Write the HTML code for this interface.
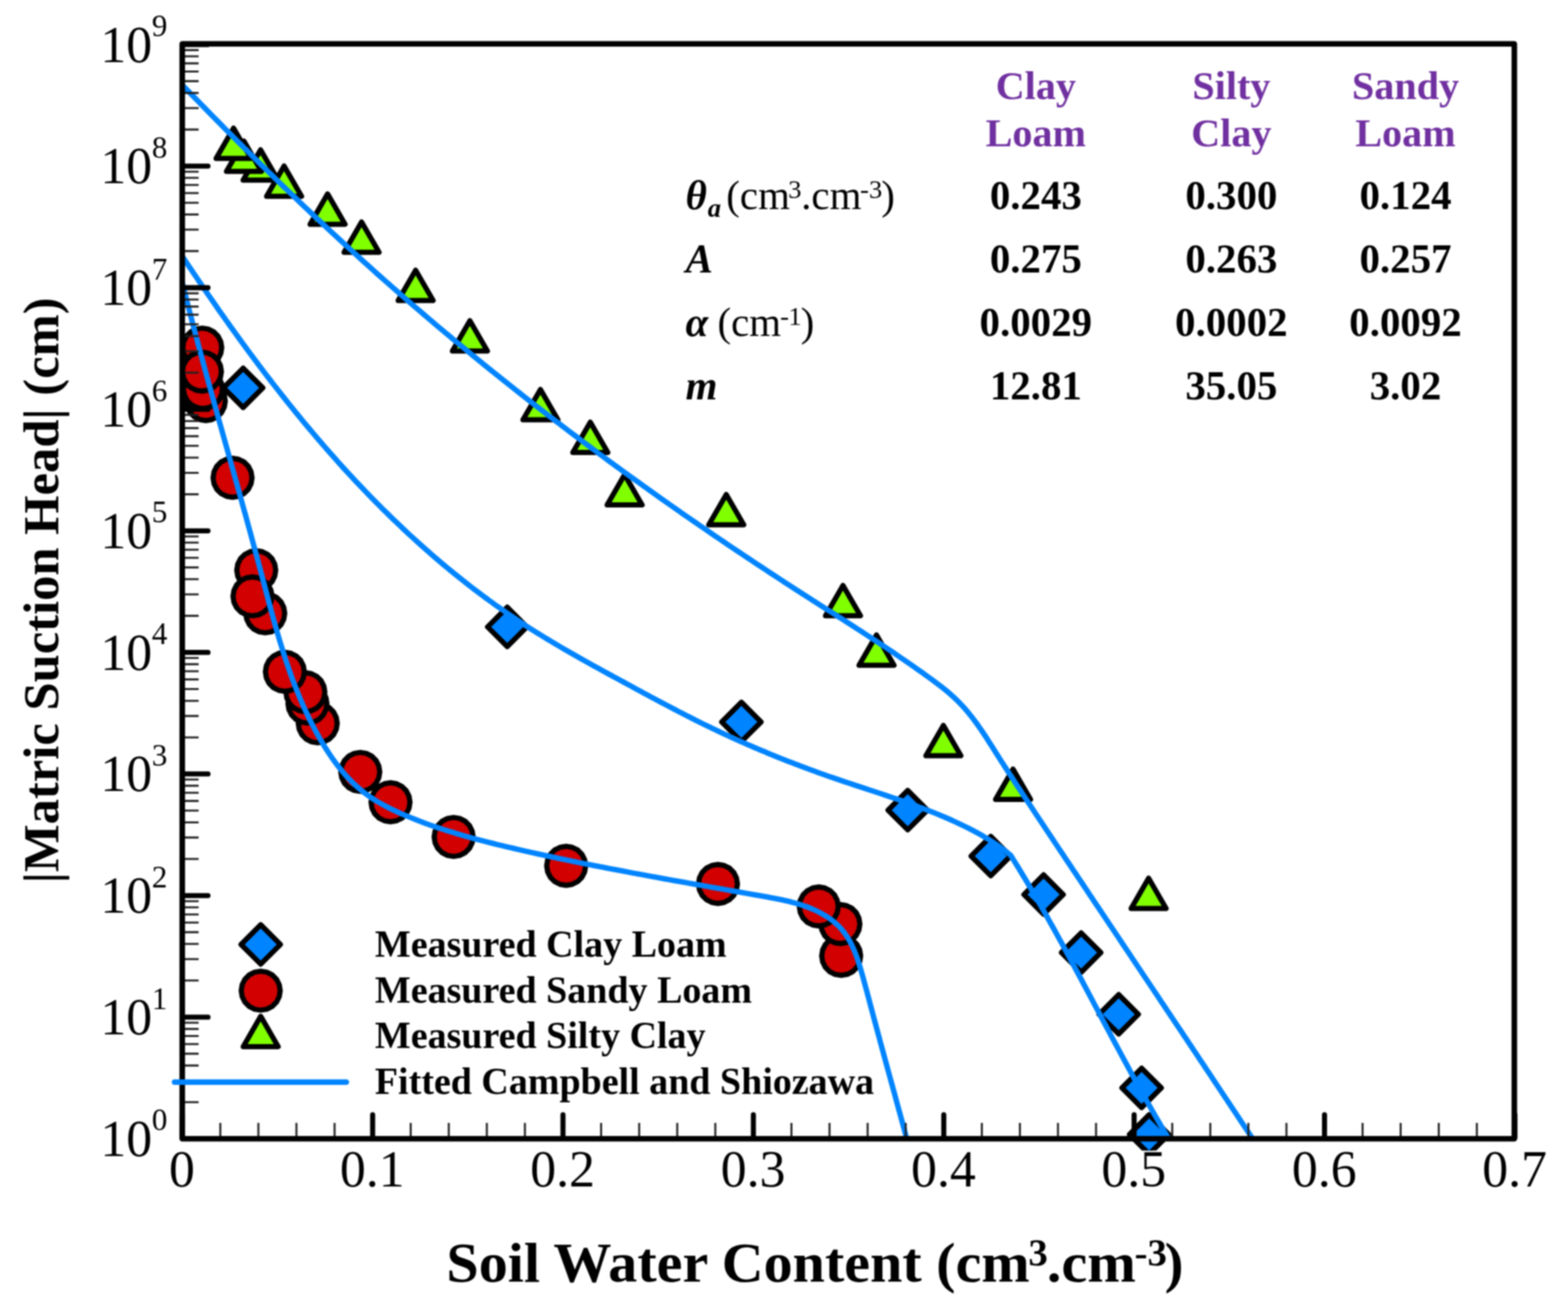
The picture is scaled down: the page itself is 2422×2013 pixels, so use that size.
<!DOCTYPE html>
<html lang="en"><head><meta charset="utf-8"><title>Soil water retention curves</title>
<style>
html,body{margin:0;padding:0;background:#fff;}
body{width:2422px;height:2013px;}
svg{display:block;filter:blur(0.8px);}
text{font-family:"Liberation Serif",serif;fill:#000;}
.b{font-weight:bold;}
.bi{font-weight:bold;font-style:italic;}
.tk{font-size:80px;}
.sp{font-size:48px;}
.tb{font-size:63.2px;font-weight:bold;}
.hd{font-size:62px;font-weight:bold;fill:#7030a0;}
.lg{font-size:58.7px;font-weight:bold;}
.mk{stroke:#000;stroke-width:8;stroke-linejoin:round;}
.cv{fill:none;stroke:#0084ff;stroke-width:8.3;stroke-linejoin:round;stroke-linecap:butt;}
</style></head><body>
<svg width="2422" height="2013" viewBox="0 0 2422 2013">
<rect width="2422" height="2013" fill="#fff"/>
<defs>
<path id="dia" d="M0 -30.4 L30.4 0 L0 30.4 L-30.4 0 Z" class="mk" fill="#0084ff"/>
<path id="cir" d="M0 -30.1 L9.3 -28.6 L17.7 -24.4 L24.4 -17.7 L28.6 -9.3 L30.1 -0 L28.6 9.3 L24.4 17.7 L17.7 24.4 L9.3 28.6 L0 30.1 L-9.3 28.6 L-17.7 24.4 L-24.4 17.7 L-28.6 9.3 L-30.1 0 L-28.6 -9.3 L-24.4 -17.7 L-17.7 -24.4 L-9.3 -28.6 Z" class="mk" fill="#d20000"/>
<path id="tri" d="M0 0 L27 46.8 L-27 46.8 Z" class="mk" fill="#80ff00"/>
<clipPath id="clipdata"><rect x="0" y="0" width="2422" height="1777.5"/></clipPath>
<clipPath id="clipplot"><rect x="281.5" y="67.8" width="2057.6" height="1691.4"/></clipPath>
</defs>
<g id="markers" clip-path="url(#clipdata)">
<g id="clay-loam-points">
<use href="#dia" x="375.6" y="599.2"/>
<use href="#dia" x="783.5" y="968.5"/>
<use href="#dia" x="1145.2" y="1115.3"/>
<use href="#dia" x="1402.1" y="1251.6"/>
<use href="#dia" x="1530.4" y="1322.6"/>
<use href="#dia" x="1612" y="1382"/>
<use href="#dia" x="1670" y="1471.7"/>
<use href="#dia" x="1728" y="1567"/>
<use href="#dia" x="1763.4" y="1680.7"/>
<use href="#dia" x="1775" y="1752.6"/>
</g>
<g id="sandy-loam-points">
<use href="#cir" x="1299.3" y="1476.7"/>
<use href="#cir" x="1298.1" y="1427.6"/>
<use href="#cir" x="1264.7" y="1400.4"/>
<use href="#cir" x="1109" y="1365.6"/>
<use href="#cir" x="874.5" y="1337.6"/>
<use href="#cir" x="700.7" y="1293"/>
<use href="#cir" x="603.2" y="1239.4"/>
<use href="#cir" x="556.5" y="1192.5"/>
<use href="#cir" x="490.8" y="1117.5"/>
<use href="#cir" x="474.9" y="1087"/>
<use href="#cir" x="471.7" y="1069.4"/>
<use href="#cir" x="440" y="1037.9"/>
<use href="#cir" x="409.7" y="947.5"/>
<use href="#cir" x="395.8" y="880.9"/>
<use href="#cir" x="390" y="921.3"/>
<use href="#cir" x="359.2" y="738.1"/>
<use href="#cir" x="317.9" y="619.6"/>
<use href="#cir" x="313.5" y="601.1"/>
<use href="#cir" x="312.4" y="537"/>
<use href="#cir" x="311.9" y="574.1"/>
</g>
<g id="silty-clay-points">
<use href="#tri" x="402.5" y="231.5"/>
<use href="#tri" x="376.8" y="218"/>
<use href="#tri" x="360.8" y="198"/>
<use href="#tri" x="438.8" y="256.5"/>
<use href="#tri" x="506" y="299.6"/>
<use href="#tri" x="558.5" y="342.9"/>
<use href="#tri" x="642" y="417.5"/>
<use href="#tri" x="725.8" y="495.5"/>
<use href="#tri" x="834.8" y="601.7"/>
<use href="#tri" x="911.8" y="652.2"/>
<use href="#tri" x="964.8" y="733.3"/>
<use href="#tri" x="1121.8" y="763.9"/>
<use href="#tri" x="1302.1" y="904.4"/>
<use href="#tri" x="1353.9" y="981"/>
<use href="#tri" x="1457.2" y="1120.8"/>
<use href="#tri" x="1564.8" y="1188.2"/>
<use href="#tri" x="1774.2" y="1356.7"/>
</g>
</g>
<g id="curves" clip-path="url(#clipplot)">
<path class="cv" d="M229.6 76.8C231 78.3 235.2 82.7 237.9 85.6C240.7 88.5 243.4 91.4 246.2 94.3C248.9 97.2 251.7 100.1 254.5 103C257.2 105.9 260 108.7 262.8 111.6C265.6 114.5 268.3 117.4 271.1 120.3C273.9 123.2 276.7 126.1 279.4 129C282.2 131.9 285 134.7 287.8 137.6C290.6 140.5 293.3 143.4 296.1 146.3C298.9 149.1 301.7 152 304.5 154.9C307.3 157.7 310.1 160.6 312.9 163.5C315.7 166.3 318.5 169.2 321.3 172.1C324.1 174.9 326.9 177.8 329.7 180.7C332.5 183.5 335.3 186.4 338.2 189.2C341 192.1 343.8 194.9 346.6 197.8C349.4 200.6 352.2 203.5 355.1 206.3C357.9 209.1 360.7 212 363.6 214.8C366.4 217.7 369.2 220.5 372.1 223.3C374.9 226.2 377.7 229 380.6 231.8C383.4 234.6 386.2 237.5 389.1 240.3C391.9 243.1 394.8 245.9 397.6 248.7C400.5 251.6 403.3 254.4 406.2 257.2C409.1 260 411.9 262.8 414.8 265.6C417.7 268.4 420.5 271.2 423.4 274C426.3 276.8 429.1 279.6 432 282.4C434.9 285.2 437.8 288 440.6 290.8C443.5 293.5 446.4 296.3 449.3 299.1C452.2 301.9 455.1 304.7 458 307.4C460.9 310.2 463.7 313 466.6 315.7C469.5 318.5 472.5 321.3 475.4 324C478.3 326.8 481.2 329.5 484.1 332.3C487 335 489.9 337.8 492.8 340.5C495.7 343.3 498.7 346 501.6 348.8C504.5 351.5 507.4 354.2 510.4 357C513.3 359.7 516.2 362.4 519.2 365.1C522.1 367.9 525.1 370.6 528 373.3C531 376 533.9 378.7 536.9 381.4C539.8 384.1 542.8 386.8 545.7 389.5C548.7 392.2 551.6 394.9 554.6 397.6C557.6 400.3 560.5 403 563.5 405.7C566.5 408.4 569.5 411.1 572.4 413.7C575.4 416.4 578.4 419.1 581.4 421.8C584.4 424.4 587.4 427.1 590.4 429.8C593.3 432.4 596.3 435.1 599.3 437.7C602.3 440.4 605.3 443 608.4 445.7C611.4 448.3 614.4 451 617.4 453.6C620.4 456.2 623.4 458.9 626.4 461.5C629.5 464.1 632.5 466.7 635.5 469.4C638.5 472 641.6 474.6 644.6 477.2C647.7 479.8 650.7 482.4 653.7 485C656.8 487.6 659.8 490.2 662.9 492.8C665.9 495.4 669 498 672 500.6C675.1 503.2 678.1 505.8 681.2 508.3C684.3 510.9 687.3 513.5 690.4 516.1C693.5 518.6 696.6 521.2 699.6 523.8C702.7 526.3 705.8 528.9 708.9 531.4C711.9 534 715 536.6 718.1 539.1C721.2 541.6 724.3 544.2 727.4 546.7C730.5 549.3 733.6 551.8 736.7 554.3C739.8 556.9 742.9 559.4 746 561.9C749.1 564.4 752.2 567 755.3 569.5C758.5 572 761.6 574.5 764.7 577C767.8 579.5 770.9 582 774.1 584.5C777.2 587 780.3 589.5 783.5 592C786.6 594.5 789.7 597 792.9 599.5C796 602 799.2 604.5 802.3 606.9C805.5 609.4 808.6 611.9 811.8 614.4C814.9 616.8 818.1 619.3 821.2 621.8C824.4 624.2 827.5 626.7 830.7 629.1C833.9 631.6 837 634 840.2 636.5C843.4 638.9 846.5 641.4 849.7 643.8C852.9 646.3 856.1 648.7 859.3 651.1C862.4 653.6 865.6 656 868.8 658.4C872 660.8 875.2 663.3 878.4 665.7C881.6 668.1 884.8 670.5 888 672.9C891.2 675.3 894.4 677.8 897.6 680.2C900.8 682.6 904 685 907.2 687.4C910.4 689.8 913.6 692.1 916.8 694.5C920.1 696.9 923.3 699.3 926.5 701.7C929.7 704.1 932.9 706.4 936.2 708.8C939.4 711.2 942.6 713.6 945.8 715.9C949.1 718.3 952.3 720.7 955.6 723C958.8 725.4 962 727.7 965.3 730.1C968.5 732.4 971.8 734.8 975 737.1C978.3 739.5 981.5 741.8 984.8 744.2C988 746.5 991.3 748.8 994.5 751.2C997.8 753.5 1001 755.8 1004.3 758.2C1007.6 760.5 1010.8 762.8 1014.1 765.1C1017.4 767.4 1020.6 769.8 1023.9 772.1C1027.2 774.4 1030.5 776.7 1033.7 779C1037 781.3 1040.3 783.6 1043.6 785.9C1046.9 788.2 1050.2 790.5 1053.4 792.8C1056.7 795.1 1060 797.4 1063.3 799.6C1066.6 801.9 1069.9 804.2 1073.2 806.5C1076.5 808.8 1079.8 811 1083.1 813.3C1086.4 815.6 1089.7 817.8 1093 820.1C1096.3 822.4 1099.6 824.6 1102.9 826.9C1106.3 829.1 1109.6 831.4 1112.9 833.6C1116.2 835.9 1119.5 838.1 1122.8 840.4C1126.2 842.6 1129.5 844.9 1132.8 847.1C1136.1 849.3 1139.5 851.6 1142.8 853.8C1146.1 856 1149.5 858.3 1152.8 860.5C1156.1 862.7 1159.5 864.9 1162.8 867.1C1166.1 869.4 1169.5 871.6 1172.8 873.8C1176.2 876 1179.5 878.2 1182.9 880.4C1186.2 882.6 1189.6 884.8 1192.9 887C1196.3 889.2 1199.6 891.4 1203 893.6C1206.3 895.8 1209.7 898 1213 900.2C1216.4 902.3 1219.8 904.5 1223.1 906.7C1226.5 908.9 1229.9 911.1 1233.2 913.2C1236.6 915.4 1240 917.6 1243.3 919.7C1246.7 921.9 1250.1 924.1 1253.5 926.2C1256.8 928.4 1260.2 930.5 1263.6 932.7C1267 934.9 1270.3 937 1273.7 939.2C1277.1 941.3 1280.5 943.5 1283.8 945.6C1287.2 947.8 1290.6 950 1294 952.1C1297.4 954.3 1300.7 956.4 1304.1 958.6C1307.5 960.8 1310.8 962.9 1314.2 965.1C1317.6 967.3 1321 969.4 1324.3 971.6C1327.7 973.8 1331.1 975.9 1334.4 978.1C1337.8 980.3 1341.1 982.5 1344.5 984.7C1347.8 986.9 1351.2 989.1 1354.5 991.3C1357.9 993.5 1361.2 995.7 1364.5 997.9C1367.9 1000.1 1371.2 1002.3 1374.5 1004.6C1377.9 1006.8 1381.2 1009 1384.5 1011.3C1387.8 1013.5 1391.1 1015.8 1394.4 1018.1C1397.7 1020.3 1401 1022.6 1404.3 1024.9C1407.6 1027.2 1410.9 1029.5 1414.1 1031.8C1417.4 1034.1 1420.7 1036.4 1423.9 1038.7C1427.2 1041.1 1430.5 1043.4 1433.7 1045.8C1436.9 1048.1 1440.2 1050.5 1443.4 1052.9C1446.6 1055.3 1449.8 1057.7 1453 1060.1C1456.1 1062.6 1459.2 1065.1 1462.3 1067.6C1465.4 1070.2 1468.4 1072.8 1471.3 1075.4C1474.3 1078.1 1477.2 1080.8 1480 1083.6C1482.8 1086.4 1485.5 1089.3 1488.2 1092.3C1490.9 1095.2 1493.4 1098.2 1496 1101.3C1498.5 1104.3 1500.9 1107.5 1503.4 1110.7C1505.8 1113.8 1508.1 1117.1 1510.5 1120.3C1512.8 1123.6 1515 1126.9 1517.3 1130.2C1519.5 1133.5 1521.8 1136.9 1524 1140.3C1526.2 1143.7 1528.3 1147.1 1530.5 1150.5C1532.7 1153.9 1534.8 1157.3 1537 1160.7C1539.1 1164.1 1541.3 1167.5 1543.5 1170.9C1545.6 1174.3 1547.8 1177.7 1550 1181C1552.1 1184.4 1554.3 1187.8 1556.5 1191.2C1558.7 1194.6 1560.9 1197.9 1563.1 1201.3C1565.2 1204.6 1567.4 1208 1569.6 1211.4C1571.8 1214.7 1574 1218.1 1576.2 1221.4C1578.4 1224.8 1580.6 1228.1 1582.8 1231.5C1585 1234.8 1587.2 1238.1 1589.5 1241.5C1591.7 1244.8 1593.9 1248.2 1596.1 1251.5C1598.3 1254.8 1600.5 1258.2 1602.7 1261.5C1604.9 1264.8 1607.2 1268.2 1609.4 1271.5C1611.6 1274.8 1613.8 1278.2 1616 1281.5C1618.2 1284.8 1620.5 1288.1 1622.7 1291.5C1624.9 1294.8 1627.1 1298.1 1629.3 1301.5C1631.6 1304.8 1633.8 1308.1 1636 1311.5C1638.2 1314.8 1640.4 1318.1 1642.7 1321.4C1644.9 1324.8 1647.1 1328.1 1649.3 1331.4C1651.6 1334.8 1653.8 1338.1 1656 1341.4C1658.2 1344.8 1660.5 1348.1 1662.7 1351.4C1664.9 1354.7 1667.1 1358.1 1669.4 1361.4C1671.6 1364.7 1673.8 1368.1 1676 1371.4C1678.3 1374.7 1680.5 1378 1682.7 1381.4C1684.9 1384.7 1687.2 1388 1689.4 1391.4C1691.6 1394.7 1693.8 1398 1696.1 1401.4C1698.3 1404.7 1700.5 1408 1702.7 1411.3C1705 1414.7 1707.2 1418 1709.4 1421.3C1711.7 1424.7 1713.9 1428 1716.1 1431.3C1718.3 1434.6 1720.6 1438 1722.8 1441.3C1725 1444.6 1727.3 1448 1729.5 1451.3C1731.7 1454.6 1733.9 1458 1736.2 1461.3C1738.4 1464.6 1740.6 1467.9 1742.9 1471.3C1745.1 1474.6 1747.3 1477.9 1749.5 1481.3C1751.8 1484.6 1754 1487.9 1756.2 1491.2C1758.5 1494.6 1760.7 1497.9 1762.9 1501.2C1765.2 1504.6 1767.4 1507.9 1769.6 1511.2C1771.8 1514.6 1774.1 1517.9 1776.3 1521.2C1778.5 1524.6 1780.8 1527.9 1783 1531.2C1785.2 1534.5 1787.4 1537.9 1789.7 1541.2C1791.9 1544.5 1794.1 1547.9 1796.3 1551.2C1798.6 1554.5 1800.8 1557.9 1803 1561.2C1805.3 1564.5 1807.5 1567.9 1809.7 1571.2C1811.9 1574.5 1814.2 1577.9 1816.4 1581.2C1818.6 1584.5 1820.8 1587.9 1823.1 1591.2C1825.3 1594.5 1827.5 1597.8 1829.7 1601.2C1832 1604.5 1834.2 1607.8 1836.4 1611.2C1838.6 1614.5 1840.9 1617.8 1843.1 1621.2C1845.3 1624.5 1847.5 1627.9 1849.8 1631.2C1852 1634.5 1854.2 1637.9 1856.4 1641.2C1858.7 1644.5 1860.9 1647.9 1863.1 1651.2C1865.3 1654.5 1867.5 1657.9 1869.8 1661.2C1872 1664.5 1874.2 1667.9 1876.4 1671.2C1878.6 1674.5 1880.9 1677.9 1883.1 1681.2C1885.3 1684.6 1887.5 1687.9 1889.7 1691.2C1891.9 1694.6 1894.2 1697.9 1896.4 1701.2C1898.6 1704.6 1900.8 1707.9 1903 1711.3C1905.2 1714.6 1907.5 1717.9 1909.7 1721.3C1911.9 1724.6 1914.1 1728 1916.3 1731.3C1918.5 1734.6 1920.7 1738 1922.9 1741.3C1925.2 1744.7 1927.4 1748 1929.6 1751.3C1931.8 1754.7 1934 1758 1936.2 1761.4C1938.4 1764.7 1940.6 1768 1942.8 1771.4C1945 1774.7 1947.2 1778.1 1949.4 1781.4C1951.6 1784.8 1953.8 1788.1 1956 1791.4C1958.2 1794.8 1960.4 1798.1 1962.7 1801.5C1964.9 1804.8 1967.1 1808.2 1969.3 1811.5C1971.5 1814.9 1974.7 1819.9 1975.8 1821.5"/>
<path class="cv" d="M240.9 333.4C241.9 335.1 245.2 340.1 247.3 343.5C249.5 346.8 251.7 350.2 253.8 353.5C256 356.9 258.2 360.2 260.4 363.6C262.6 366.9 264.7 370.3 266.9 373.6C269.1 377 271.3 380.3 273.5 383.7C275.7 387 278 390.4 280.2 393.7C282.4 397.1 284.6 400.4 286.8 403.8C289.1 407.1 291.3 410.5 293.5 413.8C295.8 417.1 298 420.5 300.2 423.8C302.5 427.1 304.7 430.5 307 433.8C309.3 437.1 311.5 440.5 313.8 443.8C316.1 447.1 318.4 450.4 320.6 453.8C322.9 457.1 325.2 460.4 327.5 463.7C329.8 467 332.1 470.4 334.4 473.7C336.7 477 339 480.3 341.3 483.6C343.7 486.9 346 490.2 348.3 493.5C350.7 496.8 353 500.1 355.3 503.3C357.7 506.6 360 509.9 362.4 513.2C364.8 516.5 367.1 519.7 369.5 523C371.9 526.3 374.2 529.6 376.6 532.8C379 536.1 381.4 539.3 383.8 542.6C386.2 545.8 388.6 549.1 391 552.3C393.4 555.6 395.9 558.8 398.3 562C400.7 565.3 403.1 568.5 405.6 571.7C408 574.9 410.5 578.1 412.9 581.4C415.4 584.6 417.9 587.8 420.3 591C422.8 594.2 425.3 597.3 427.8 600.5C430.3 603.7 432.8 606.9 435.3 610.1C437.8 613.2 440.3 616.4 442.8 619.6C445.3 622.7 447.8 625.9 450.4 629C452.9 632.2 455.5 635.3 458 638.4C460.6 641.6 463.1 644.7 465.7 647.8C468.2 650.9 470.8 654 473.4 657.1C476 660.2 478.6 663.3 481.2 666.4C483.8 669.5 486.4 672.6 489 675.7C491.6 678.7 494.3 681.8 496.9 684.8C499.5 687.9 502.2 690.9 504.8 694C507.5 697 510.1 700 512.8 703.1C515.5 706.1 518.2 709.1 520.8 712.1C523.5 715.1 526.2 718.1 528.9 721.1C531.6 724.1 534.4 727 537.1 730C539.8 733 542.5 735.9 545.3 738.9C548 741.8 550.8 744.8 553.5 747.7C556.3 750.6 559.1 753.5 561.9 756.4C564.6 759.3 567.4 762.2 570.2 765.1C573 768 575.8 770.9 578.7 773.8C581.5 776.6 584.3 779.5 587.2 782.3C590 785.2 592.8 788 595.7 790.8C598.6 793.6 601.4 796.5 604.3 799.3C607.2 802.1 610.1 804.8 613 807.6C615.9 810.4 618.8 813.2 621.7 815.9C624.6 818.7 627.6 821.4 630.5 824.2C633.5 826.9 636.4 829.6 639.4 832.3C642.3 835 645.3 837.7 648.3 840.4C651.3 843.1 654.3 845.7 657.3 848.4C660.3 851.1 663.3 853.7 666.3 856.3C669.4 859 672.4 861.6 675.5 864.2C678.5 866.8 681.6 869.4 684.6 872C687.7 874.6 690.8 877.1 693.9 879.7C697 882.2 700.1 884.8 703.2 887.3C706.3 889.8 709.4 892.3 712.6 894.8C715.7 897.3 718.9 899.8 722 902.3C725.2 904.8 728.4 907.2 731.6 909.7C734.8 912.1 738 914.5 741.2 916.9C744.4 919.3 747.6 921.7 750.8 924.1C754.1 926.5 757.3 928.9 760.6 931.2C763.8 933.6 767.1 935.9 770.4 938.2C773.7 940.6 777 942.9 780.3 945.2C783.6 947.5 786.9 949.7 790.2 952C793.6 954.3 796.9 956.5 800.3 958.7C803.6 961 807 963.2 810.4 965.4C813.7 967.6 817.1 969.7 820.5 971.9C824 974.1 827.4 976.2 830.8 978.4C834.2 980.5 837.7 982.6 841.1 984.7C844.6 986.8 848 988.9 851.5 991C855 993.1 858.5 995.1 862 997.2C865.4 999.2 868.9 1001.3 872.4 1003.3C875.9 1005.3 879.5 1007.4 883 1009.4C886.5 1011.4 890 1013.4 893.5 1015.4C897.1 1017.4 900.6 1019.4 904.1 1021.3C907.7 1023.3 911.2 1025.3 914.8 1027.3C918.3 1029.2 921.8 1031.2 925.4 1033.1C928.9 1035.1 932.5 1037 936 1039C939.6 1040.9 943.2 1042.9 946.7 1044.8C950.3 1046.7 953.8 1048.7 957.4 1050.6C960.9 1052.5 964.5 1054.5 968 1056.4C971.6 1058.3 975.1 1060.2 978.6 1062.2C982.2 1064.1 985.7 1066 989.3 1067.9C992.8 1069.8 996.4 1071.8 999.9 1073.7C1003.5 1075.6 1007 1077.5 1010.6 1079.4C1014.1 1081.3 1017.7 1083.2 1021.2 1085C1024.8 1086.9 1028.3 1088.8 1031.9 1090.7C1035.4 1092.5 1039 1094.4 1042.6 1096.3C1046.1 1098.1 1049.7 1100 1053.3 1101.8C1056.8 1103.6 1060.4 1105.5 1064 1107.3C1067.6 1109.1 1071.1 1110.9 1074.7 1112.7C1078.3 1114.5 1081.9 1116.3 1085.5 1118.1C1089.1 1119.8 1092.7 1121.6 1096.3 1123.3C1099.9 1125.1 1103.6 1126.8 1107.2 1128.5C1110.8 1130.3 1114.4 1132 1118.1 1133.7C1121.7 1135.4 1125.4 1137 1129 1138.7C1132.7 1140.4 1136.3 1142 1140 1143.7C1143.7 1145.3 1147.3 1146.9 1151 1148.6C1154.7 1150.2 1158.4 1151.8 1162.1 1153.4C1165.7 1155 1169.4 1156.5 1173.1 1158.1C1176.8 1159.7 1180.6 1161.2 1184.3 1162.8C1188 1164.3 1191.7 1165.8 1195.4 1167.3C1199.2 1168.9 1202.9 1170.4 1206.6 1171.8C1210.4 1173.3 1214.1 1174.8 1217.9 1176.3C1221.6 1177.7 1225.4 1179.2 1229.1 1180.6C1232.9 1182.1 1236.7 1183.5 1240.5 1184.9C1244.2 1186.3 1248 1187.7 1251.8 1189.1C1255.6 1190.5 1259.4 1191.9 1263.2 1193.3C1267 1194.6 1270.8 1196 1274.6 1197.3C1278.4 1198.7 1282.2 1200 1286 1201.3C1289.9 1202.7 1293.7 1204 1297.5 1205.3C1301.4 1206.6 1305.2 1207.9 1309 1209.1C1312.9 1210.4 1316.7 1211.7 1320.6 1213C1324.4 1214.2 1328.3 1215.5 1332.1 1216.8C1336 1218 1339.8 1219.3 1343.7 1220.6C1347.5 1221.8 1351.4 1223.1 1355.2 1224.4C1359 1225.6 1362.9 1226.9 1366.7 1228.2C1370.6 1229.5 1374.4 1230.8 1378.2 1232.1C1382 1233.4 1385.9 1234.7 1389.7 1236C1393.5 1237.3 1397.3 1238.6 1401.1 1240C1404.9 1241.3 1408.7 1242.7 1412.5 1244.1C1416.3 1245.4 1420.1 1246.8 1423.8 1248.3C1427.6 1249.7 1431.4 1251.1 1435.1 1252.6C1438.8 1254 1442.6 1255.5 1446.3 1257C1450 1258.5 1453.7 1260.1 1457.4 1261.6C1461.1 1263.2 1464.8 1264.8 1468.4 1266.4C1472.1 1268.1 1475.7 1269.7 1479.3 1271.4C1483 1273.1 1486.6 1274.8 1490.2 1276.6C1493.8 1278.4 1497.3 1280.2 1500.9 1282C1504.4 1283.8 1507.9 1285.7 1511.4 1287.7C1514.9 1289.6 1518.4 1291.6 1521.8 1293.7C1525.2 1295.7 1528.7 1297.8 1532 1300C1535.4 1302.1 1538.7 1304.4 1542 1306.7C1545.3 1309 1548.5 1311.4 1551.7 1313.8C1554.9 1316.3 1559.6 1320.1 1561.2 1321.4C1562.3 1323.1 1565.4 1328.2 1567.5 1331.6C1569.6 1335 1571.7 1338.4 1573.8 1341.8C1575.9 1345.3 1578 1348.7 1580 1352.1C1582.1 1355.6 1584.2 1359 1586.2 1362.4C1588.3 1365.9 1590.3 1369.3 1592.3 1372.8C1594.3 1376.2 1596.4 1379.7 1598.4 1383.1C1600.4 1386.6 1602.4 1390.1 1604.4 1393.5C1606.4 1397 1608.4 1400.5 1610.3 1404C1612.3 1407.4 1614.3 1410.9 1616.3 1414.4C1618.2 1417.9 1620.2 1421.4 1622.1 1424.9C1624.1 1428.4 1626 1431.9 1628 1435.4C1629.9 1438.9 1631.9 1442.4 1633.8 1445.9C1635.7 1449.4 1637.6 1452.9 1639.6 1456.4C1641.5 1459.9 1643.4 1463.4 1645.3 1467C1647.2 1470.5 1649.1 1474 1651 1477.5C1652.9 1481 1654.8 1484.6 1656.7 1488.1C1658.6 1491.6 1660.5 1495.1 1662.4 1498.7C1664.3 1502.2 1666.2 1505.7 1668.1 1509.3C1670 1512.8 1671.9 1516.3 1673.7 1519.9C1675.6 1523.4 1677.5 1526.9 1679.4 1530.5C1681.3 1534 1683.1 1537.5 1685 1541.1C1686.9 1544.6 1688.8 1548.1 1690.6 1551.7C1692.5 1555.2 1694.4 1558.8 1696.3 1562.3C1698.2 1565.8 1700 1569.4 1701.9 1572.9C1703.8 1576.4 1705.7 1580 1707.5 1583.5C1709.4 1587.1 1711.3 1590.6 1713.2 1594.1C1715.1 1597.7 1716.9 1601.2 1718.8 1604.7C1720.7 1608.3 1722.6 1611.8 1724.5 1615.3C1726.4 1618.8 1728.3 1622.4 1730.2 1625.9C1732.1 1629.4 1734 1632.9 1735.9 1636.5C1737.8 1640 1739.7 1643.5 1741.6 1647C1743.5 1650.6 1745.4 1654.1 1747.3 1657.6C1749.3 1661.1 1751.2 1664.6 1753.1 1668.1C1755 1671.6 1757 1675.1 1758.9 1678.6C1760.9 1682.1 1762.8 1685.6 1764.7 1689.1C1766.7 1692.6 1768.7 1696.1 1770.6 1699.6C1772.6 1703.1 1774.6 1706.6 1776.5 1710C1778.5 1713.5 1780.5 1717 1782.5 1720.5C1784.5 1723.9 1786.5 1727.4 1788.5 1730.9C1790.5 1734.3 1792.5 1737.8 1794.5 1741.3C1796.6 1744.7 1798.6 1748.2 1800.6 1751.6C1802.7 1755 1804.7 1758.5 1806.8 1761.9C1808.8 1765.4 1810.9 1768.8 1813 1772.2C1815.1 1775.6 1817.2 1779 1819.3 1782.5C1821.4 1785.9 1823.5 1789.3 1825.6 1792.7C1827.7 1796.1 1829.9 1799.5 1832 1802.8C1834.1 1806.2 1836.3 1809.6 1838.5 1813C1840.6 1816.4 1843.9 1821.4 1845 1823.1"/>
<path class="cv" d="M263.6 361C264 362.9 265.4 368.8 266.3 372.8C267.2 376.7 268.1 380.6 269 384.5C269.9 388.4 270.9 392.3 271.8 396.2C272.7 400.1 273.6 404.1 274.6 408C275.5 411.9 276.5 415.8 277.4 419.7C278.4 423.6 279.3 427.5 280.3 431.3C281.2 435.2 282.2 439.1 283.2 443C284.1 446.9 285.1 450.8 286.1 454.7C287.1 458.6 288.1 462.4 289 466.3C290 470.2 291 474.1 292 478C293 481.8 294 485.7 295 489.6C296 493.5 297 497.3 298 501.2C299.1 505.1 300.1 508.9 301.1 512.8C302.1 516.7 303.1 520.5 304.2 524.4C305.2 528.3 306.2 532.1 307.2 536C308.3 539.9 309.3 543.7 310.4 547.6C311.4 551.4 312.4 555.3 313.5 559.1C314.5 563 315.6 566.9 316.6 570.7C317.7 574.6 318.7 578.4 319.8 582.3C320.8 586.1 321.9 590 322.9 593.8C324 597.7 325.1 601.5 326.1 605.4C327.2 609.2 328.2 613.1 329.3 616.9C330.4 620.8 331.4 624.6 332.5 628.5C333.6 632.3 334.7 636.2 335.7 640C336.8 643.8 337.9 647.7 338.9 651.5C340 655.4 341.1 659.2 342.2 663.1C343.2 666.9 344.3 670.8 345.4 674.6C346.5 678.5 347.5 682.3 348.6 686.2C349.7 690 350.8 693.8 351.9 697.7C352.9 701.5 354 705.4 355.1 709.2C356.2 713.1 357.2 716.9 358.3 720.8C359.4 724.6 360.5 728.5 361.5 732.3C362.6 736.2 363.7 740 364.8 743.9C365.9 747.7 366.9 751.6 368 755.4C369.1 759.3 370.1 763.1 371.2 767C372.3 770.8 373.4 774.7 374.4 778.6C375.5 782.4 376.6 786.3 377.6 790.1C378.7 794 379.8 797.8 380.8 801.7C381.9 805.6 383 809.4 384 813.3C385.1 817.1 386.1 821 387.2 824.9C388.2 828.7 389.3 832.6 390.3 836.5C391.4 840.4 392.4 844.2 393.5 848.1C394.5 852 395.6 855.8 396.6 859.7C397.7 863.6 398.7 867.5 399.7 871.4C400.8 875.2 401.8 879.1 402.8 883C403.9 886.9 404.9 890.8 405.9 894.7C406.9 898.5 407.9 902.4 409 906.3C410 910.2 411 914.1 412.1 918C413.1 921.9 414.1 925.8 415.2 929.6C416.2 933.5 417.2 937.4 418.3 941.3C419.3 945.2 420.4 949 421.5 952.9C422.5 956.8 423.6 960.7 424.7 964.5C425.8 968.4 426.9 972.2 428 976.1C429.1 979.9 430.3 983.8 431.4 987.6C432.6 991.5 433.7 995.3 434.9 999.1C436.1 1002.9 437.3 1006.8 438.5 1010.6C439.7 1014.4 441 1018.2 442.2 1022C443.5 1025.8 444.8 1029.5 446.1 1033.3C447.4 1037.1 448.7 1040.8 450.1 1044.6C451.4 1048.3 452.8 1052.1 454.2 1055.8C455.7 1059.5 457.1 1063.2 458.6 1066.9C460.1 1070.6 461.6 1074.3 463.1 1078C464.6 1081.6 466.2 1085.3 467.8 1088.9C469.4 1092.6 471.1 1096.2 472.7 1099.8C474.4 1103.4 476.1 1107 477.9 1110.6C479.6 1114.1 481.4 1117.7 483.2 1121.2C485.1 1124.8 487 1128.3 488.9 1131.8C490.8 1135.3 492.7 1138.8 494.8 1142.2C496.8 1145.7 498.8 1149.1 500.9 1152.5C503 1155.9 505.2 1159.3 507.4 1162.7C509.6 1166 511.8 1169.3 514.1 1172.6C516.4 1175.9 518.8 1179.1 521.2 1182.3C523.7 1185.4 526.2 1188.6 528.7 1191.6C531.3 1194.7 533.9 1197.7 536.6 1200.6C539.3 1203.5 542.1 1206.4 544.9 1209.2C547.7 1211.9 550.6 1214.6 553.6 1217.2C556.6 1219.9 559.7 1222.4 562.8 1224.8C566 1227.2 569.2 1229.6 572.5 1231.8C575.8 1234.1 579.2 1236.2 582.7 1238.3C586.1 1240.3 589.7 1242.3 593.2 1244.2C596.8 1246.2 600.4 1248 604 1249.8C607.7 1251.6 611.4 1253.3 615.1 1254.9C618.8 1256.6 622.5 1258.2 626.3 1259.8C630 1261.4 633.8 1262.9 637.6 1264.4C641.3 1265.9 645.1 1267.4 648.9 1268.8C652.7 1270.3 656.4 1271.7 660.2 1273.1C664 1274.4 667.8 1275.8 671.7 1277.1C675.5 1278.4 679.3 1279.6 683.1 1280.9C686.9 1282.1 690.8 1283.4 694.6 1284.6C698.4 1285.7 702.3 1286.9 706.1 1288.1C710 1289.2 713.8 1290.3 717.7 1291.4C721.5 1292.5 725.4 1293.6 729.2 1294.7C733.1 1295.7 737 1296.7 740.8 1297.8C744.7 1298.8 748.6 1299.8 752.5 1300.8C756.3 1301.8 760.2 1302.7 764.1 1303.7C768 1304.7 771.9 1305.6 775.7 1306.5C779.6 1307.5 783.5 1308.4 787.4 1309.3C791.3 1310.2 795.2 1311.1 799.1 1312C803 1312.9 806.9 1313.8 810.8 1314.7C814.6 1315.5 818.5 1316.4 822.4 1317.3C826.3 1318.2 830.2 1319 834.1 1319.9C838 1320.7 841.9 1321.6 845.8 1322.4C849.7 1323.2 853.6 1324.1 857.5 1324.9C861.4 1325.7 865.3 1326.5 869.2 1327.4C873.1 1328.2 877 1329 880.9 1329.8C884.8 1330.6 888.7 1331.4 892.6 1332.2C896.5 1333 900.4 1333.8 904.3 1334.5C908.3 1335.3 912.2 1336.1 916.1 1336.9C920 1337.6 923.9 1338.4 927.8 1339.2C931.7 1339.9 935.6 1340.7 939.6 1341.5C943.5 1342.2 947.4 1343 951.3 1343.7C955.2 1344.5 959.1 1345.2 963.1 1345.9C967 1346.7 970.9 1347.4 974.8 1348.2C978.7 1348.9 982.7 1349.6 986.6 1350.3C990.5 1351.1 994.4 1351.8 998.4 1352.5C1002.3 1353.2 1006.2 1354 1010.2 1354.7C1014.1 1355.4 1018 1356.1 1022 1356.8C1025.9 1357.5 1029.8 1358.2 1033.8 1359C1037.7 1359.7 1041.7 1360.4 1045.6 1361.1C1049.5 1361.8 1053.5 1362.5 1057.4 1363.2C1061.4 1363.9 1065.3 1364.6 1069.3 1365.3C1073.2 1366 1077.2 1366.7 1081.1 1367.4C1085.1 1368.1 1089 1368.8 1093 1369.5C1096.9 1370.2 1100.9 1370.9 1104.8 1371.6C1108.8 1372.3 1112.8 1373 1116.7 1373.7C1120.7 1374.4 1124.6 1375.1 1128.6 1375.8C1132.6 1376.5 1136.5 1377.2 1140.5 1377.9C1144.5 1378.6 1148.5 1379.3 1152.4 1380C1156.4 1380.7 1160.4 1381.4 1164.3 1382.1C1168.3 1382.8 1172.3 1383.5 1176.3 1384.2C1180.3 1384.9 1184.3 1385.6 1188.2 1386.4C1192.2 1387.1 1196.2 1387.8 1200.1 1388.6C1204.1 1389.4 1208 1390.2 1212 1391.1C1215.9 1392 1219.8 1392.9 1223.7 1393.9C1227.5 1395 1231.4 1396 1235.2 1397.2C1239 1398.4 1242.8 1399.6 1246.5 1401C1250.2 1402.4 1253.9 1403.9 1257.5 1405.5C1261.1 1407.1 1264.7 1408.9 1268.2 1410.8C1271.6 1412.7 1275.1 1414.7 1278.4 1416.9C1281.7 1419.1 1284.9 1421.4 1288 1423.9C1291 1426.4 1293.9 1429 1296.6 1431.8C1299.3 1434.7 1301.8 1437.6 1304.1 1440.8C1306.4 1443.9 1308.6 1447.1 1310.6 1450.5C1312.6 1453.9 1314.4 1457.4 1316.1 1461C1317.9 1464.6 1319.4 1468.3 1320.9 1472C1322.4 1475.7 1323.8 1479.6 1325.1 1483.4C1326.4 1487.3 1327.6 1491.2 1328.8 1495.1C1330 1499 1331.1 1503 1332.2 1506.9C1333.3 1510.8 1334.4 1514.8 1335.4 1518.7C1336.5 1522.6 1337.5 1526.5 1338.6 1530.3C1339.6 1534.2 1340.6 1538.1 1341.7 1541.9C1342.7 1545.8 1343.7 1549.6 1344.7 1553.5C1345.8 1557.3 1346.8 1561.2 1347.8 1565C1348.8 1568.9 1349.9 1572.7 1350.9 1576.6C1351.9 1580.4 1353 1584.3 1354 1588.1C1355 1592 1356.1 1595.8 1357.1 1599.7C1358.2 1603.5 1359.2 1607.4 1360.2 1611.2C1361.3 1615.1 1362.3 1619 1363.4 1622.8C1364.4 1626.7 1365.5 1630.5 1366.5 1634.4C1367.6 1638.2 1368.6 1642.1 1369.7 1646C1370.7 1649.8 1371.8 1653.7 1372.8 1657.5C1373.9 1661.4 1375 1665.3 1376 1669.1C1377.1 1673 1378.1 1676.8 1379.2 1680.7C1380.2 1684.6 1381.3 1688.4 1382.4 1692.3C1383.4 1696.2 1384.5 1700 1385.5 1703.9C1386.6 1707.7 1387.6 1711.6 1388.7 1715.5C1389.8 1719.3 1390.8 1723.2 1391.9 1727.1C1392.9 1730.9 1394 1734.8 1395 1738.7C1396.1 1742.5 1397.1 1746.4 1398.2 1750.3C1399.2 1754.1 1400.3 1758 1401.3 1761.8C1402.4 1765.7 1403.4 1769.6 1404.5 1773.4C1405.5 1777.3 1406.6 1781.2 1407.6 1785C1408.7 1788.9 1409.7 1792.8 1410.8 1796.6C1411.8 1800.5 1412.8 1804.4 1413.9 1808.2C1414.9 1812.1 1415.9 1815.9 1417 1819.8C1418 1823.7 1419.5 1829.5 1420.1 1831.4"/>
</g>
<g id="axes" stroke="#000" fill="none">
<path d="M281.5 1702.7H306.8M281.5 1669.6H306.8M281.5 1646.1H306.8M281.5 1627.9H306.8M281.5 1613H306.8M281.5 1600.5H306.8M281.5 1589.6H306.8M281.5 1580H306.8M281.5 1514.8H306.8M281.5 1481.8H306.8M281.5 1458.3H306.8M281.5 1440.1H306.8M281.5 1425.2H306.8M281.5 1412.7H306.8M281.5 1401.8H306.8M281.5 1392.2H306.8M281.5 1327H306.8M281.5 1293.9H306.8M281.5 1270.5H306.8M281.5 1252.3H306.8M281.5 1237.4H306.8M281.5 1224.8H306.8M281.5 1213.9H306.8M281.5 1204.3H306.8M281.5 1139.2H306.8M281.5 1106.1H306.8M281.5 1082.7H306.8M281.5 1064.5H306.8M281.5 1049.6H306.8M281.5 1037H306.8M281.5 1026.1H306.8M281.5 1016.5H306.8M281.5 951.4H306.8M281.5 918.3H306.8M281.5 894.8H306.8M281.5 876.6H306.8M281.5 861.8H306.8M281.5 849.2H306.8M281.5 838.3H306.8M281.5 828.7H306.8M281.5 763.6H306.8M281.5 730.5H306.8M281.5 707H306.8M281.5 688.8H306.8M281.5 673.9H306.8M281.5 661.4H306.8M281.5 650.5H306.8M281.5 640.9H306.8M281.5 575.7H306.8M281.5 542.7H306.8M281.5 519.2H306.8M281.5 501H306.8M281.5 486.1H306.8M281.5 473.6H306.8M281.5 462.7H306.8M281.5 453.1H306.8M281.5 387.9H306.8M281.5 354.8H306.8M281.5 331.4H306.8M281.5 313.2H306.8M281.5 298.3H306.8M281.5 285.7H306.8M281.5 274.8H306.8M281.5 265.2H306.8M281.5 200.1H306.8M281.5 167H306.8M281.5 143.6H306.8M281.5 125.4H306.8M281.5 110.5H306.8M281.5 97.9H306.8M281.5 87H306.8M281.5 77.4H306.8" stroke-width="3.1" stroke="#222"/>
<path d="M340.3 1759.2V1734.7M399.1 1759.2V1734.7M457.9 1759.2V1734.7M516.8 1759.2V1734.7M634.4 1759.2V1734.7M693.2 1759.2V1734.7M752 1759.2V1734.7M810.8 1759.2V1734.7M928.5 1759.2V1734.7M987.3 1759.2V1734.7M1046.1 1759.2V1734.7M1104.9 1759.2V1734.7M1222.5 1759.2V1734.7M1281.3 1759.2V1734.7M1340.2 1759.2V1734.7M1399 1759.2V1734.7M1516.6 1759.2V1734.7M1575.4 1759.2V1734.7M1634.2 1759.2V1734.7M1693 1759.2V1734.7M1810.7 1759.2V1734.7M1869.5 1759.2V1734.7M1928.3 1759.2V1734.7M1987.1 1759.2V1734.7M2104.7 1759.2V1734.7M2163.5 1759.2V1734.7M2222.4 1759.2V1734.7M2281.2 1759.2V1734.7" stroke-width="3.1" stroke="#222"/>
<path d="M283.5 1759.2H321.3M283.5 1571.4H321.3M283.5 1383.6H321.3M283.5 1195.7H321.3M283.5 1007.9H321.3M283.5 820.1H321.3M283.5 632.3H321.3M283.5 444.5H321.3M283.5 256.6H321.3M283.5 68.8H321.3M281.5 1757.2V1722.2M575.6 1757.2V1722.2M869.6 1757.2V1722.2M1163.7 1757.2V1722.2M1457.8 1757.2V1722.2M1751.8 1757.2V1722.2M2045.9 1757.2V1722.2M2340 1757.2V1722.2" stroke-width="7.8" stroke-linecap="round"/>
<rect x="281.5" y="67.8" width="2057.6" height="1691.4" stroke-width="8.6" stroke-linejoin="round"/>
</g>
<g id="ticklabels">
<text class="tk" x="155" y="1785.9">10<tspan class="sp" dx="-0.5" dy="-39.5">0</tspan></text>
<text class="tk" x="155" y="1598.1">10<tspan class="sp" dx="-0.5" dy="-39.5">1</tspan></text>
<text class="tk" x="155" y="1410.3">10<tspan class="sp" dx="-0.5" dy="-39.5">2</tspan></text>
<text class="tk" x="155" y="1222.4">10<tspan class="sp" dx="-0.5" dy="-39.5">3</tspan></text>
<text class="tk" x="155" y="1034.6">10<tspan class="sp" dx="-0.5" dy="-39.5">4</tspan></text>
<text class="tk" x="155" y="846.8">10<tspan class="sp" dx="-0.5" dy="-39.5">5</tspan></text>
<text class="tk" x="155" y="659">10<tspan class="sp" dx="-0.5" dy="-39.5">6</tspan></text>
<text class="tk" x="155" y="471.2">10<tspan class="sp" dx="-0.5" dy="-39.5">7</tspan></text>
<text class="tk" x="155" y="283.3">10<tspan class="sp" dx="-0.5" dy="-39.5">8</tspan></text>
<text class="tk" x="155" y="95.5">10<tspan class="sp" dx="-0.5" dy="-39.5">9</tspan></text>
<text class="tk" text-anchor="middle" x="281" y="1832.6">0</text>
<text class="tk" text-anchor="middle" x="575.1" y="1832.6">0.1</text>
<text class="tk" text-anchor="middle" x="869.1" y="1832.6">0.2</text>
<text class="tk" text-anchor="middle" x="1163.2" y="1832.6">0.3</text>
<text class="tk" text-anchor="middle" x="1457.3" y="1832.6">0.4</text>
<text class="tk" text-anchor="middle" x="1751.3" y="1832.6">0.5</text>
<text class="tk" text-anchor="middle" x="2045.4" y="1832.6">0.6</text>
<text class="tk" text-anchor="middle" x="2339.5" y="1832.6">0.7</text>
</g>
<text class="b" font-size="78" transform="translate(89.7 1364.5) rotate(-90)" textLength="905" lengthAdjust="spacingAndGlyphs">|Matric Suction Head| (cm)</text>
<text class="b" font-size="87" x="689.5" y="1980" textLength="901" lengthAdjust="spacingAndGlyphs">Soil Water Content (cm</text>
<text class="b" font-size="60" x="1588.5" y="1955">3</text>
<text class="b" font-size="87" x="1617" y="1980" textLength="137.5" lengthAdjust="spacingAndGlyphs">.cm</text>
<text class="b" font-size="60" x="1752.5" y="1955">-3</text>
<text class="b" font-size="87" x="1799" y="1980">)</text>
<g id="table">
<text class="hd" text-anchor="middle" x="1600" y="152.5">Clay</text>
<text class="hd" text-anchor="middle" x="1600" y="225.5">Loam</text>
<text class="hd" text-anchor="middle" x="1902" y="152.5">Silty</text>
<text class="hd" text-anchor="middle" x="1902" y="225.5">Clay</text>
<text class="hd" text-anchor="middle" x="2171" y="152.5">Sandy</text>
<text class="hd" text-anchor="middle" x="2171" y="225.5">Loam</text>
<text class="tb" text-anchor="middle" x="1600" y="322.5">0.243</text>
<text class="tb" text-anchor="middle" x="1902" y="322.5">0.300</text>
<text class="tb" text-anchor="middle" x="2171" y="322.5">0.124</text>
<text class="tb" text-anchor="middle" x="1600" y="420.7">0.275</text>
<text class="tb" text-anchor="middle" x="1902" y="420.7">0.263</text>
<text class="tb" text-anchor="middle" x="2171" y="420.7">0.257</text>
<text class="tb" text-anchor="middle" x="1600" y="519.3">0.0029</text>
<text class="tb" text-anchor="middle" x="1902" y="519.3">0.0002</text>
<text class="tb" text-anchor="middle" x="2171" y="519.3">0.0092</text>
<text class="tb" text-anchor="middle" x="1600" y="617.3">12.81</text>
<text class="tb" text-anchor="middle" x="1902" y="617.3">35.05</text>
<text class="tb" text-anchor="middle" x="2171" y="617.3">3.02</text>
<text font-size="63.2" x="1059" y="322.5"><tspan class="bi">θ</tspan><tspan class="bi" font-size="41" dy="12.4" dx="1.5">a</tspan><tspan dy="-12.4" dx="8">(cm</tspan><tspan font-size="41" dy="-17" dx="-2.5">3</tspan><tspan dy="17" dx="-0.5">.cm</tspan><tspan font-size="41" dy="-17" dx="-2">-3</tspan><tspan dy="17" dx="-1.5">)</tspan></text>
<text font-size="63.2" x="1059" y="420.7"><tspan class="bi">A</tspan></text>
<text font-size="63.2" x="1059" y="519.3"><tspan class="bi">α</tspan><tspan dx="-1.5"> (cm</tspan><tspan font-size="41" dy="-17" dx="-1.5">-</tspan><tspan font-size="41" dx="-1">1</tspan><tspan dy="17" dx="-1.5">)</tspan></text>
<text font-size="63.2" x="1059" y="617.3"><tspan class="bi">m</tspan></text>
</g>
<g id="legend">
<use href="#dia" x="402.7" y="1459.1"/>
<use href="#cir" x="402.7" y="1530.5"/>
<use href="#tri" x="402.7" y="1570.1"/>
<path d="M269.5 1671.8H535" stroke="#0084ff" stroke-width="8.5" stroke-linecap="round" fill="none"/>
<text class="lg" x="579" y="1477.5">Measured Clay Loam</text>
<text class="lg" x="579" y="1548.5">Measured Sandy Loam</text>
<text class="lg" x="579" y="1619">Measured Silty Clay</text>
<text class="lg" x="579" y="1690">Fitted Campbell and Shiozawa</text>
</g>
</svg>
</body></html>
